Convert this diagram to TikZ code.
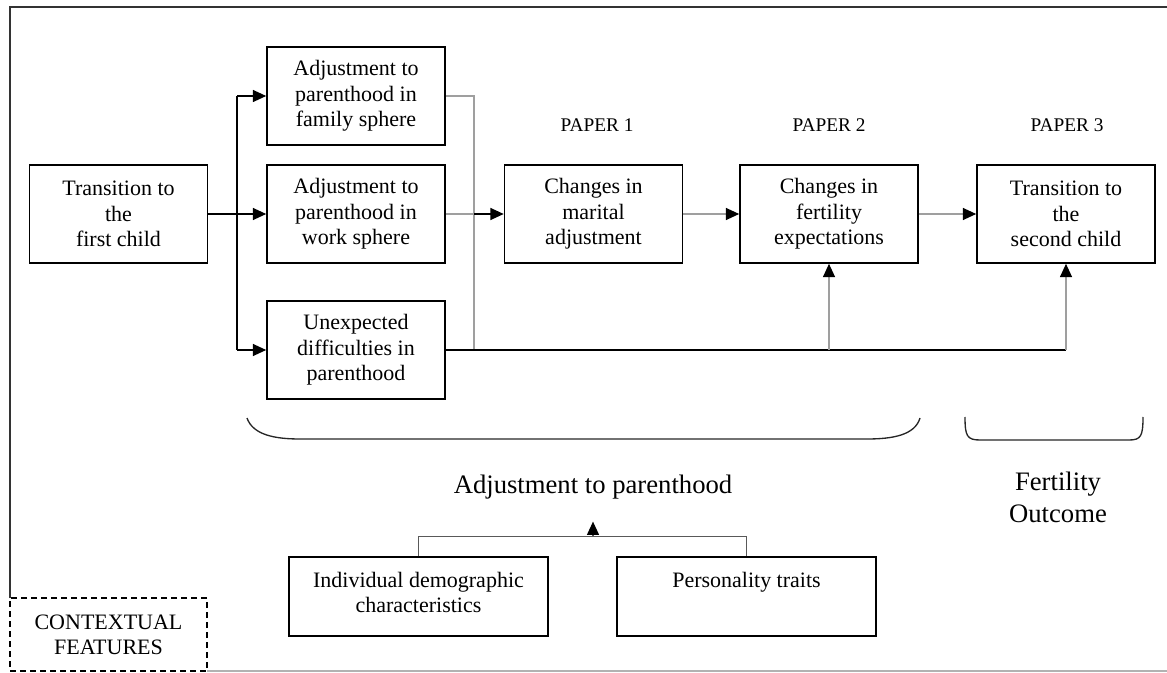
\documentclass[tikz,border=0pt]{standalone}
\usepackage{fontspec}
\setmainfont{Liberation Serif}
\usetikzlibrary{arrows.meta}
\begin{document}
\begin{tikzpicture}[x=0.75pt,y=-0.75pt,
  box/.style={draw=black,line width=1.2pt,inner sep=0pt,minimum width=133.5pt,minimum height=73.5pt,
    align=center,font=\fontsize{16.5}{19.1}\selectfont},
  lowbox/.style={draw=black,line width=1.2pt,inner sep=0pt,minimum width=194pt,minimum height=59pt,
    font=\fontsize{16.5}{18.75}\selectfont},
  paper/.style={font=\fontsize{14.5}{17}\selectfont,anchor=base,inner sep=0pt},
  biglabel/.style={font=\fontsize{20}{24}\selectfont,inner sep=0pt,align=center},
  conn/.style={line width=1pt,black},
  gconn/.style={line width=1pt,gray!75},
  arr/.style={-{Triangle[length=10pt,width=9pt,color=black]}},
  frame/.style={line width=1.3pt,black!80},
]
\useasboundingbox (0,0) rectangle (1167,673);

% outer frame
\draw[frame] (10,598) -- (10,7) -- (1167,7);
\draw[line width=1pt,gray!60] (207,671) -- (1167,671);

% main boxes
\node[box] (trans) at (118.5,214) {Transition to\\the\\first child};
\node[box] (fam)   at (356,96)   {Adjustment to\\parenthood in\\family sphere};
\node[box] (work)  at (356,214)  {Adjustment to\\parenthood in\\work sphere};
\node[box] (unexp) at (356,350)  {Unexpected\\difficulties in\\parenthood};
\node[box] (mar)   at (593.5,214) {Changes in\\marital\\adjustment};
\node[box] (fert)  at (829,214)  {Changes in\\fertility\\expectations};
\node[box] (sec)   at (1066,214) {Transition to\\the\\second child};

% paper labels
\node[paper] (p1) at (597,132) {PAPER 1};
\node[paper] (p2) at (829,132) {PAPER 2};
\node[paper] (p3) at (1067,132) {PAPER 3};

% branching from transition to first child
\coordinate (tr) at (237,214);
\coordinate (j)  at (474,350);
\draw[conn,arr] (trans.east) -- (work.west);
\draw[conn] (tr |- fam.west) -- (tr |- unexp.west);
\draw[conn,arr] (tr |- fam.west) -- (fam.west);
\draw[conn,arr] (tr |- unexp.west) -- (unexp.west);

% to marital adjustment
\draw[gconn] (fam.east) -| (j);
\draw[gconn] (work.east) -- (j |- work.east);
\draw[conn,arr] (j |- work.east) -- (mar.west);

% chain
\draw[gconn,arr] (mar.east) -- (fert.west);
\draw[gconn,arr] (fert.east) -- (sec.west);

% unexpected difficulties to papers 2 and 3
\draw[conn] (unexp.east) -- (sec.south |- unexp.east);
\draw[gconn,arr] (fert.south |- unexp.east) -- (fert.south);
\draw[gconn,arr] (sec.south |- unexp.east) -- (sec.south);

% braces
\draw[line width=1pt,black!85] (247,418) .. controls (253,435) and (275,439) .. (300,439) -- (867,439) .. controls (893,439) and (915,435) .. (920,418);
\draw[line width=1pt,black!85] (965,417) .. controls (965,436) and (967,440) .. (980,440) -- (1129,440) .. controls (1141,440) and (1143,436) .. (1143,417);

% labels
\node[biglabel,anchor=base] (adj) at (593,493) {Adjustment to parenthood};
\node[biglabel] (fo) at (1058,497) {Fertility\\Outcome};

% bottom boxes
\node[lowbox] (ind) at (418.5,596.5) {\parbox[c][36.75pt][t]{190pt}{\centering Individual demographic\\characteristics}};
\node[lowbox] (pers) at (746.5,596.5) {\parbox[c][36.75pt][t]{190pt}{\centering Personality traits}};
\draw[line width=1pt,gray!70!black] (ind.north) -- ++(0,-20) -| (pers.north);
\coordinate (m) at (593,537);
\draw[line width=1pt,gray!70!black,arr,shorten >=17pt] (m) -- (adj.south);

% contextual features
\node[draw=black,line width=1pt,dash pattern=on 4.5pt off 3pt,inner sep=0pt,minimum width=147.75pt,minimum height=54.75pt,
  align=center,font=\fontsize{16.5}{18.75}\selectfont] (ctx) at (108.5,634.5) {CONTEXTUAL\\FEATURES};
\end{tikzpicture}
\end{document}
